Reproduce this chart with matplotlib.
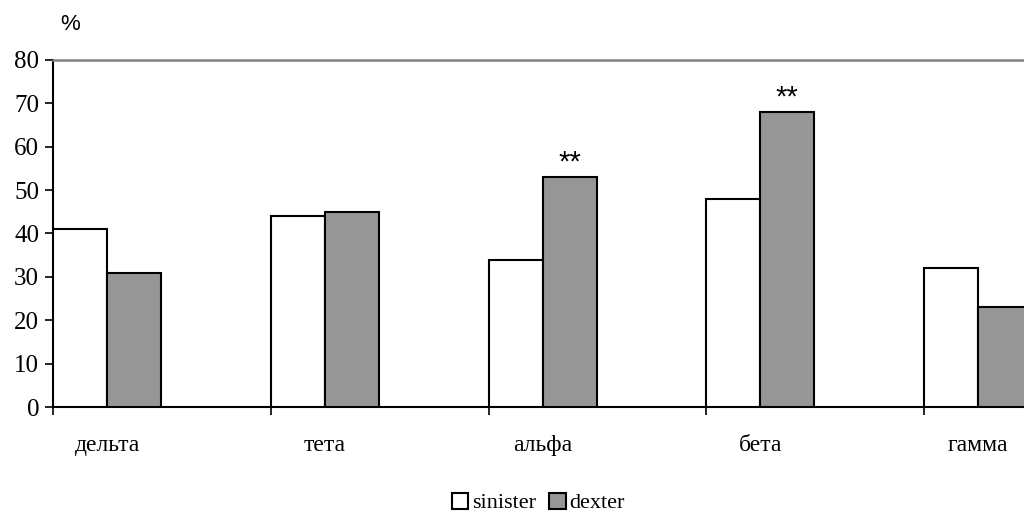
import matplotlib
matplotlib.use("Agg")
import matplotlib.pyplot as plt
from matplotlib.patches import Patch
import numpy as np

categories = ["дельта", "тета", "альфа", "бета", "гамма"]
sinister = [41, 44, 34, 48, 32]
dexter = [31, 45, 53, 68, 23]
marks = ["", "", "**", "**", ""]
yticks = [0, 10, 20, 30, 40, 50, 60, 70, 80]

fig = plt.figure(figsize=(10.24, 5.14), dpi=100)
ax = fig.add_axes([53/1024, (514-407)/514, 1 - 53/1024, (407-60)/514])

serif = ["Liberation Serif", "DejaVu Serif"]
sans = ["Liberation Sans", "DejaVu Sans"]
x = np.arange(len(categories))
w = 0.248
ax.bar(x, sinister, width=w, align="edge", color="white", edgecolor="black", linewidth=1.5, zorder=3)
ax.bar(x + w, dexter, width=w, align="edge", color="#969696", edgecolor="black", linewidth=1.5, zorder=3)
for xi, v, m in zip(x, dexter, marks):
    if m:
        ax.text(xi + 1.5*w, v + 0.2, m, ha="center", va="bottom", fontsize=21, family=sans)

ax.set_ylim(0, 80)
ax.set_xlim(0, (1024 - 53) / 217.75)
ax.set_yticks(yticks)
ax.set_yticklabels([str(t) for t in yticks], family=serif, fontsize=18)
ax.set_xticks(np.arange(0, 5))
ax.set_xticklabels([])
ax.set_xticks(x + w, minor=True)
ax.set_xticklabels(categories, minor=True, family=serif, fontsize=17)
ax.tick_params(axis="x", which="minor", length=0, pad=20)
ax.tick_params(axis="x", which="major", length=6, width=1.2, direction="out")
ax.tick_params(axis="y", length=6, width=1.2, direction="out", pad=4)

for s in ["left", "bottom"]:
    ax.spines[s].set_color("black")
    ax.spines[s].set_linewidth(1.5)
ax.spines["top"].set_color("#808080")
ax.spines["top"].set_linewidth(1.8)
ax.spines["right"].set_visible(False)

fig.text(70/1024, 1 - 25/514, "%", ha="center", va="center", fontsize=16, family=sans)

handles = [Patch(facecolor="white", edgecolor="black", linewidth=1.5, label="sinister"),
           Patch(facecolor="#969696", edgecolor="black", linewidth=1.5, label="dexter")]
fig.legend(handles=handles, loc="center", bbox_to_anchor=(538/1024, 1 - 503/514), ncol=2, frameon=False,
           prop={"family": serif, "size": 16}, handlelength=0.75, handleheight=0.75,
           handletextpad=0.15, columnspacing=0.6, borderpad=0.1)

fig.savefig("out.png", dpi=100)
